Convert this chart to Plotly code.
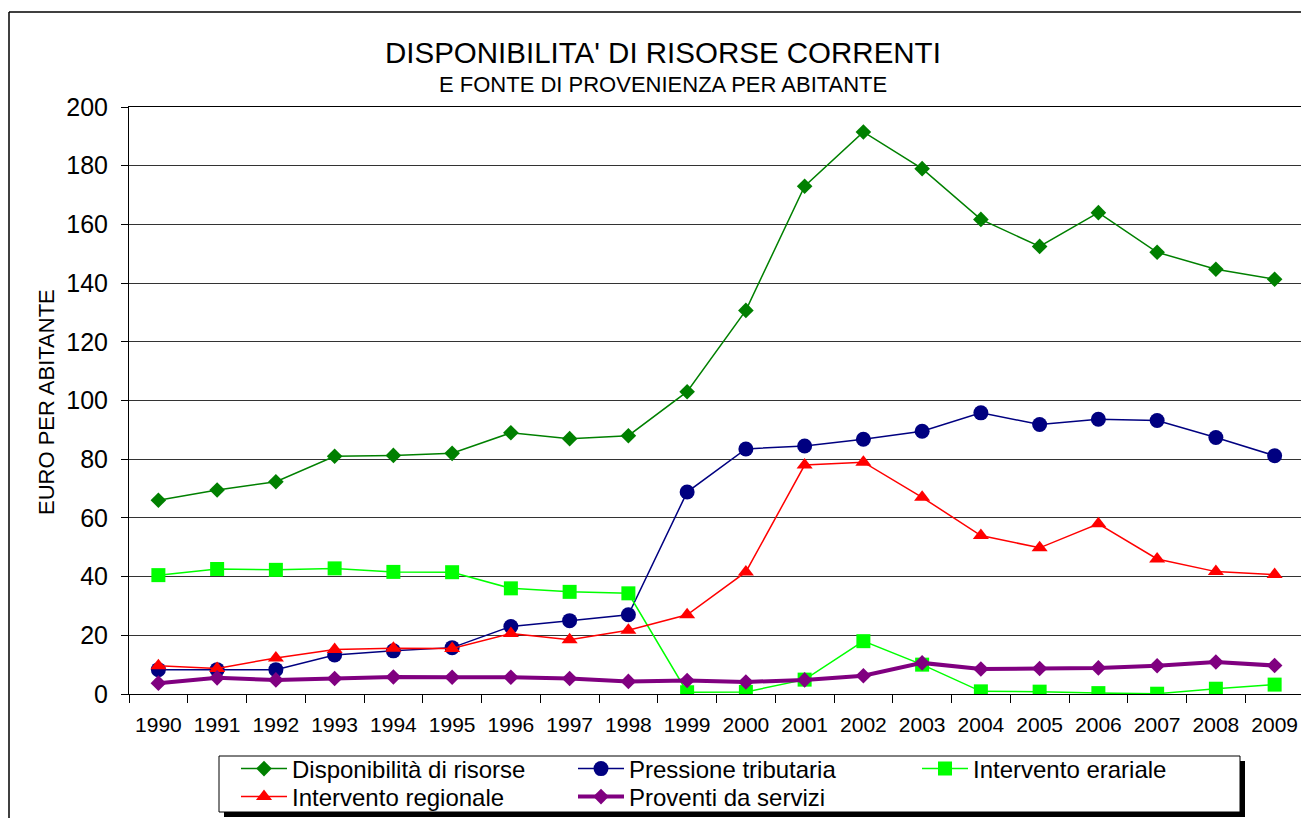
import plotly.graph_objects as go

years = [str(y) for y in range(1990, 2010)]
disponibilita = [66, 69.5, 72.3, 81, 81.3, 82, 89, 87, 88, 103, 130.7, 173, 191.5, 179, 161.7, 152.5, 164, 150.5, 144.7, 141.3]
pressione = [8.3, 8.3, 8.3, 13.3, 14.7, 15.8, 23, 25, 27, 68.8, 83.5, 84.5, 86.8, 89.5, 95.8, 91.8, 93.6, 93.2, 87.4, 81.2]
erariale = [40.5, 42.6, 42.3, 42.8, 41.6, 41.5, 36, 34.8, 34.3, 0.6, 0.7, 4.9, 18, 10, 0.9, 0.8, 0.3, 0.1, 1.8, 3.2]
regionale = [9.6, 8.7, 12.3, 15.2, 15.6, 15.5, 20.6, 18.5, 21.7, 27, 41.6, 78, 79, 67, 54, 49.8, 58, 46, 41.7, 40.7]
proventi = [3.7, 5.5, 4.8, 5.3, 5.8, 5.7, 5.7, 5.3, 4.3, 4.6, 4.1, 4.8, 6.2, 10.6, 8.5, 8.7, 8.9, 9.6, 10.9, 9.7]

FONT = "Liberation Sans, Arial, sans-serif"

# the page body adds an 8px offset; work in screen pixels and convert
OFF = 8
SL, SR, ST, SB = 129, 1304, 107, 694  # plot area on screen
W, H = 1309 - OFF, 818 - OFF
L, R, T, B = SL - OFF, SR - OFF, ST - OFF, SB - OFF


def px(sx):
    return (sx - OFF - L) / (R - L)


def py(sy):
    return (B - (sy - OFF)) / (B - T)


# name, values, colour, symbol, marker size, line width, legend id, legend x, legend row y (screen px)
series = [
    ("Disponibilità di risorse", disponibilita, "#008000", "diamond", 12, 1.5, "legend", 236, 769),
    ("Pressione tributaria", pressione, "#000080", "circle", 15, 1.5, "legend2", 573, 769),
    ("Intervento erariale", erariale, "#00FF00", "square", 14, 1.5, "legend3", 917, 769),
    ("Intervento regionale", regionale, "#FF0000", "triangle-up", 14, 1.5, "legend4", 236, 797),
    ("Proventi da servizi", proventi, "#800080", "diamond", 12, 4, "legend5", 573, 797),
]

fig = go.Figure()
legends = {}
for name, vals, col, sym, ms, lw, lg, lx, ly in series:
    fig.add_trace(go.Scatter(
        x=years, y=vals, name=name, mode="lines+markers",
        line=dict(color=col, width=lw),
        marker=dict(symbol=sym, size=ms, color=col, line=dict(width=0)),
        legend=lg,
    ))
    legends[lg] = dict(
        x=px(lx), y=py(ly), xanchor="left", yanchor="middle",
        bgcolor="rgba(0,0,0,0)", borderwidth=0, itemwidth=46,
        font=dict(size=24, family=FONT, color="black"),
        orientation="v",
    )

fig.update_layout(
    width=W, height=H,
    margin=dict(l=L, r=W - R, t=T, b=H - B, autoexpand=False),
    paper_bgcolor="white", plot_bgcolor="white",
    font=dict(family=FONT, color="black"),
    showlegend=True,
    xaxis=dict(
        type="category", range=[-0.5, 19.5], showline=True, linecolor="black",
        linewidth=1, mirror=True, ticks="outside", tickson="boundaries",
        ticklen=8, tickcolor="black", showgrid=False, automargin=False,
        tickfont=dict(size=21, family=FONT), ticklabelstandoff=12,
    ),
    yaxis=dict(
        range=[0, 200], dtick=20, showline=True, linecolor="black", linewidth=1,
        mirror=True, ticks="outside", ticklen=7, tickcolor="black",
        showgrid=True, gridcolor="#333333", gridwidth=1, zeroline=False,
        automargin=False, tickfont=dict(size=25, family=FONT), ticklabelstandoff=8,
    ),
    annotations=[
        dict(text="DISPONIBILITA' DI RISORSE CORRENTI", x=px(663), y=py(52),
             xref="paper", yref="paper", showarrow=False,
             font=dict(size=29.5, family=FONT), xanchor="center", yanchor="middle"),
        dict(text="E FONTE DI PROVENIENZA PER ABITANTE", x=px(663), y=py(84),
             xref="paper", yref="paper", showarrow=False,
             font=dict(size=22, family=FONT), xanchor="center", yanchor="middle"),
        dict(text="EURO PER ABITANTE", x=px(46), y=py(402), textangle=-90,
             xref="paper", yref="paper", showarrow=False,
             font=dict(size=22, family=FONT), xanchor="center", yanchor="middle"),
    ],
    shapes=[
        dict(type="line", xref="paper", yref="paper", x0=px(9), x1=px(1330),
             y0=py(12), y1=py(12), line=dict(color="black", width=1.5)),
        dict(type="line", xref="paper", yref="paper", x0=px(9), x1=px(9),
             y0=py(12), y1=py(840), line=dict(color="black", width=1.5)),
        dict(type="rect", xref="paper", yref="paper", x0=px(224), x1=px(1245),
             y0=py(817), y1=py(761), fillcolor="black", line=dict(width=0)),
        dict(type="rect", xref="paper", yref="paper", x0=px(219), x1=px(1240),
             y0=py(812), y1=py(756), fillcolor="white",
             line=dict(color="black", width=1)),
    ],
    **legends,
)

fig.write_html("out.html")
